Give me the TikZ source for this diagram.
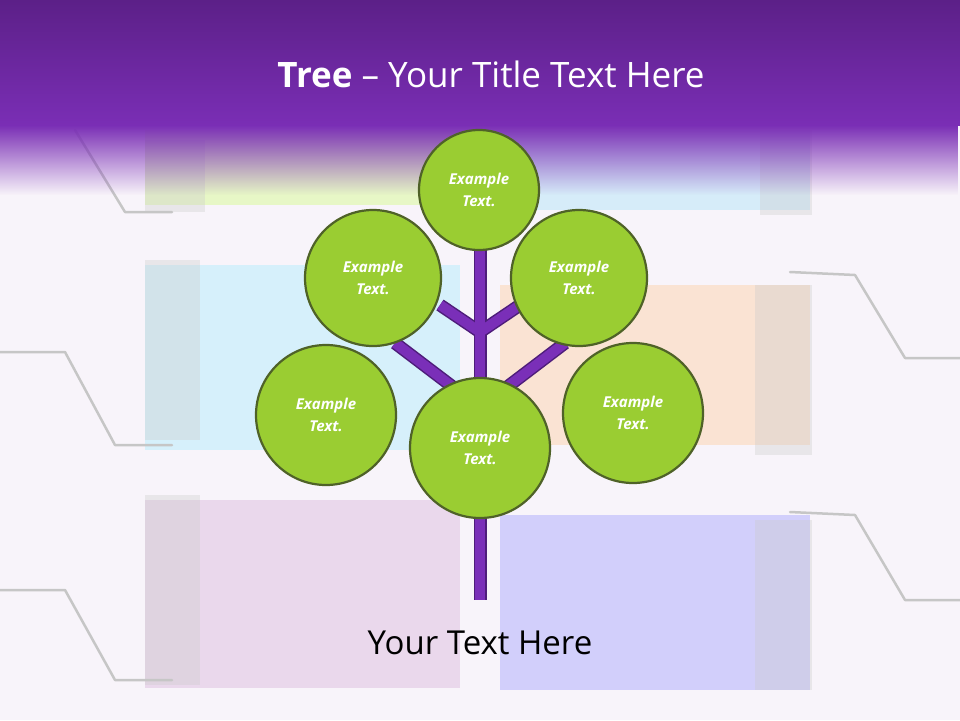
\documentclass[tikz,border=0pt]{standalone}
\usepackage{fontspec}
\setmainfont{Open Sans}
\usetikzlibrary{fadings}
\begin{document}
\begin{tikzpicture}[x=1pt,y=-1pt,
  leaf/.style={circle,fill=leafg,draw=leafd,line width=2.2pt,text=white,font=\bfseries\itshape\fontsize{15}{22}\selectfont,align=center,inner sep=0pt},
  branch/.style={draw=trunkd,line width=13pt,line cap=butt},
  branchin/.style={draw=trunkc,line width=10pt,line cap=butt},
  paint/.style={opacity=0.35},
  roller/.style={draw=gray!45,line width=2.5pt,line cap=round,line join=round}]
\definecolor{leafg}{HTML}{9ACD32}
\definecolor{leafd}{HTML}{4F6228}
\definecolor{trunkc}{HTML}{7A2FB8}
\definecolor{trunkd}{HTML}{4E1D7A}
\definecolor{bgc}{HTML}{F8F4FA}
\definecolor{hdr}{HTML}{7A2EB5}
\definecolor{hdrtop}{HTML}{5C2088}
\useasboundingbox (0,0) rectangle (960,720);
\fill[bgc] (0,0) rectangle (960,720);
% paint strips
\fill[paint,fill=green!35!yellow!60!white] (145,130) rectangle (460,205);
\fill[paint,fill=cyan!40] (500,130) rectangle (810,210);
\fill[paint,fill=blue!20!cyan!40] (145,265) rectangle (460,450);
\fill[paint,fill=orange!45] (500,285) rectangle (810,445);
\fill[paint,fill=violet!35] (145,500) rectangle (460,688);
\fill[paint,fill=blue!45] (500,515) rectangle (810,690);
% rollers
\fill[paint,fill=gray!40] (145,140) rectangle (205,212);
\fill[paint,fill=gray!40] (760,130) rectangle (812,215);
\fill[paint,fill=gray!40] (145,260) rectangle (200,440);
\fill[paint,fill=gray!40] (755,285) rectangle (812,455);
\fill[paint,fill=gray!40] (145,495) rectangle (200,685);
\fill[paint,fill=gray!40] (755,520) rectangle (812,690);
\draw[roller] (75,130) -- (125,212) -- (172,212);
\draw[roller] (0,352) -- (65,352) -- (115,445) -- (172,445);
\draw[roller] (0,590) -- (65,590) -- (115,680) -- (172,680);
\draw[roller] (960,358) -- (905,358) -- (855,275) -- (790,272);
\draw[roller] (960,600) -- (905,600) -- (855,515) -- (790,512);
% header
\shade[top color=hdrtop,bottom color=hdr] (0,0) rectangle (960,125);
\fill[hdr,path fading=south] (0,125) rectangle (960,195);
\node[text=white,font=\fontsize{35}{40}\selectfont] (title) at (491,74) {\textbf{Tree} – Your Title Text Here};
% trunk and branches
\coordinate (tb) at (480,600);
\coordinate (tt) at (480,245);
\coordinate (j1) at (480,332);
\coordinate (j2) at (470,400);
\coordinate (j3) at (490,400);
\draw[branch] (tt) -- (tb);
\draw[branch] (j1) -- (440,305);
\draw[branch] (j1) -- (520,305);
\draw[branch] (j2) -- (395,343);
\draw[branch] (j3) -- (565,343);
\draw[branchin] (tt) -- (tb);
\draw[branchin] (j1) -- (440,305);
\draw[branchin] (j1) -- (520,305);
\draw[branchin] (j2) -- (395,343);
\draw[branchin] (j3) -- (565,343);
% leaves
\node[leaf,minimum size=120pt] (top) at (479,190) {Example\\Text.};
\node[leaf,minimum size=136pt] (ul) at (373,278) {Example\\Text.};
\node[leaf,minimum size=136pt] (ur) at (579,278) {Example\\Text.};
\node[leaf,minimum size=140pt] (l) at (326,415) {Example\\Text.};
\node[leaf,minimum size=140pt] (r) at (633,413) {Example\\Text.};
\node[leaf,minimum size=140pt] (c) at (480,448) {Example\\Text.};
\node[font=\fontsize{33}{38}\selectfont] (sub) at (480,643) {Your Text Here};
\end{tikzpicture}
\end{document}
